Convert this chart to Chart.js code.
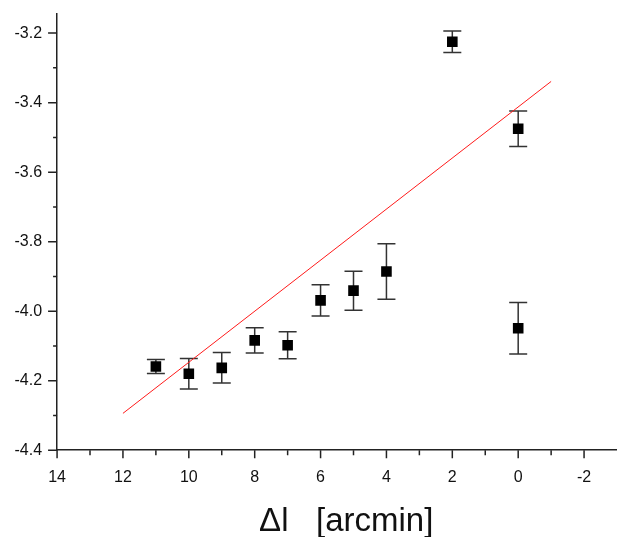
<!DOCTYPE html>
<html>
<head>
<meta charset="utf-8">
<script src="https://cdn.jsdelivr.net/npm/chart.js@4.4.1/dist/chart.umd.min.js"></script>
<style>
  body { margin: 0; background: #fff; }
  #wrap { width: 617px; height: 537px; }
</style>
</head>
<body>
<div id="wrap"><canvas id="offsetChart" width="617" height="537"></canvas></div>
<script>
// measured points: offset (arcmin), value, error
const offsets = [11, 10, 9, 8, 7, 6, 5, 4, 2, 0, 0];
const values = [-4.159, -4.180, -4.163, -4.084, -4.098, -3.969, -3.941, -3.886, -3.225, -3.475, -4.049];
const errors = [0.020, 0.044, 0.044, 0.036, 0.039, 0.045, 0.056, 0.080, 0.031, 0.051, 0.074];

// red fitted line
const fitX = [12, -1];
const fitY = [-4.294, -3.339];

// labelled ticks
const xLabels = [14, 12, 10, 8, 6, 4, 2, 0, -2];
const yLabels = [-4.4, -4.2, -4.0, -3.8, -3.6, -3.4, -3.2];

const points = offsets.map((x, i) => ({x: x, y: values[i]}));
const fitLine = fitX.map((x, i) => ({x: x, y: fitY[i]}));

const isLabel = (list, v) => list.some(l => Math.abs(l - v) < 1e-6);

// error bars behind the squares
const errorBars = {
    id: 'errorBars',
    beforeDatasetsDraw(chart) {
        const {ctx, scales: {x, y}} = chart;
        ctx.save();
        ctx.strokeStyle = '#333';
        ctx.lineWidth = 1.5;
        ctx.beginPath();
        offsets.forEach((o, i) => {
            const px = x.getPixelForValue(o);
            const top = y.getPixelForValue(values[i] + errors[i]);
            const bot = y.getPixelForValue(values[i] - errors[i]);
            ctx.moveTo(px, top); ctx.lineTo(px, bot);
            ctx.moveTo(px - 9, top); ctx.lineTo(px + 9, top);
            ctx.moveTo(px - 9, bot); ctx.lineTo(px + 9, bot);
        });
        ctx.stroke();
        ctx.restore();
    }
};

// outward tick marks, long on labelled values, short in between
const tickMarks = {
    id: 'tickMarks',
    afterDraw(chart) {
        const {ctx, chartArea, scales: {x, y}} = chart;
        ctx.save();
        ctx.strokeStyle = '#222';
        ctx.lineWidth = 1.5;
        ctx.beginPath();
        for (let v = -2; v <= 14; v++) {
            const px = x.getPixelForValue(v);
            const len = isLabel(xLabels, v) ? 8 : 5;
            ctx.moveTo(px, chartArea.bottom);
            ctx.lineTo(px, chartArea.bottom + len);
        }
        for (let i = -44; i <= -32; i++) {
            const py = y.getPixelForValue(i / 10);
            const len = isLabel(yLabels, i / 10) ? 9 : 4;
            ctx.moveTo(chartArea.left - len, py);
            ctx.lineTo(chartArea.left, py);
        }
        ctx.stroke();
        ctx.restore();
    }
};

new Chart(document.getElementById('offsetChart'), {
    type: 'scatter',
    data: {
        datasets: [
            {
                label: 'fit',
                type: 'line',
                data: fitLine,
                borderColor: '#ff1a1a',
                borderWidth: 1,
                pointRadius: 0,
                fill: false
            },
            {
                label: 'data',
                data: points,
                pointStyle: 'rect',
                pointRadius: 7.5,
                backgroundColor: '#000',
                borderWidth: 0
            }
        ]
    },
    options: {
        responsive: false,
        animation: false,
        layout: { autoPadding: false, padding: { top: 14, left: 8.5, right: 0, bottom: 0 } },
        plugins: {
            legend: { display: false },
            tooltip: { enabled: false }
        },
        scales: {
            x: {
                type: 'linear',
                reverse: true,
                min: -3,
                max: 14,
                grid: { display: false, drawTicks: true, tickLength: 8 },
                border: { display: true, color: '#222', width: 1.5 },
                afterFit: s => { s.paddingRight = 0; s.paddingLeft = 0; },
                ticks: {
                    stepSize: 1,
                    autoSkip: false,
                    maxRotation: 0,
                    padding: 10,
                    color: '#111',
                    font: { family: 'Liberation Sans, Arial, sans-serif', size: 16 },
                    callback: v => isLabel(xLabels, v) ? String(v) : ''
                },
                title: {
                    display: true,
                    text: '  Δl   [arcmin]',
                    color: '#111',
                    font: { family: 'Liberation Sans, Arial, sans-serif', size: 33 },
                    padding: { top: 5, bottom: -5 }
                }
            },
            y: {
                min: -4.4,
                max: -3.145,
                grid: { display: false, drawTicks: true, tickLength: 9 },
                border: { display: true, color: '#222', width: 1.5 },
                afterFit: s => { s.paddingTop = 0; s.paddingBottom = 0; },
                ticks: {
                    stepSize: 0.1,
                    autoSkip: false,
                    padding: 6,
                    color: '#111',
                    font: { family: 'Liberation Sans, Arial, sans-serif', size: 16 },
                    callback: v => isLabel(yLabels, v) ? v.toFixed(1) : ''
                }
            }
        }
    },
    plugins: [errorBars, tickMarks]
});
</script>
</body>
</html>
